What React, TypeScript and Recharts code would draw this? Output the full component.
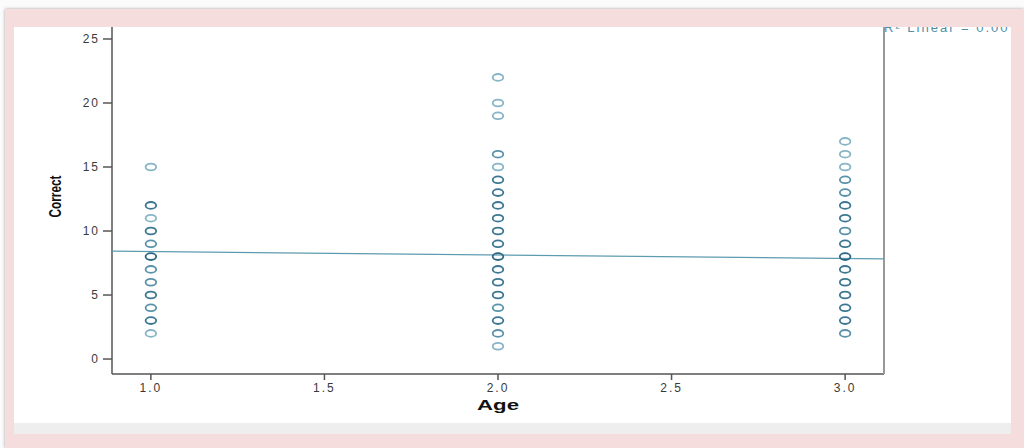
import { ScatterChart, Scatter, XAxis, YAxis, Label } from 'recharts';

// tick labels
const xTicks = [1.0, 1.5, 2.0, 2.5, 3.0];
const yTicks = [0, 5, 10, 15, 20, 25];

// Age = 1
const correctAge1 = [15, 12, 11, 10, 9, 8, 7, 6, 5, 4, 3, 2];
const overlapAge1 = [1, 3, 1, 4, 2, 5, 2, 2, 4, 2, 4, 1];
// Age = 2
const correctAge2 = [22, 20, 19, 16, 15, 14, 13, 12, 11, 10, 9, 8, 7, 6, 5, 4, 3, 2, 1];
const overlapAge2 = [1, 1, 1, 2, 1, 4, 4, 4, 4, 4, 4, 5, 4, 4, 4, 2, 4, 2, 1];
// Age = 3
const correctAge3 = [17, 16, 15, 14, 13, 12, 11, 10, 9, 8, 7, 6, 5, 4, 3, 2];
const overlapAge3 = [1, 1, 1, 2, 2, 4, 4, 2, 4, 5, 4, 4, 4, 4, 4, 2];

// linear fit line ends (R² Linear = 0.00)
const fitAge = [0.888, 3.112];
const fitCorrect = [8.43, 7.82];

const build = (age: number, vals: number[], counts: number[]) =>
  vals.map((v, i) => ({ age, correct: v, n: counts[i] }));

const points = [
  ...build(1, correctAge1, overlapAge1),
  ...build(2, correctAge2, overlapAge2),
  ...build(3, correctAge3, overlapAge3),
];
const fitData = fitAge.map((a, i) => ({ age: a, correct: fitCorrect[i] }));

const shade = (n: number) => {
  if (n <= 1) return '#86b5c6';
  if (n <= 2) return '#5a93a9';
  if (n <= 4) return '#3a7891';
  return '#2a6780';
};

const PointShape = (props: any) => {
  const { cx, cy, payload } = props;
  return (
    <ellipse cx={cx} cy={cy} rx={5.3} ry={3.4} fill="none" stroke={shade(payload.n)} strokeWidth={1.8} />
  );
};

const tickStyle = { fill: '#3a3a3a', fontSize: 12, fontFamily: 'Liberation Sans, Arial, sans-serif', letterSpacing: 2 };
const yDomain = [-1.17, 27.03];

export default function App() {
  return (
    <div style={{ position: 'absolute', left: 0, top: 0, width: 1024, height: 448, background: '#fbfbfb', overflow: 'hidden' }}>
      <div
        style={{
          position: 'absolute', left: 5, top: 9, width: 1019, height: 439,
          background: '#f5dddd', boxShadow: '0 0 3px rgba(0,0,0,0.35)',
        }}
      />
      <div style={{ position: 'absolute', left: 14, top: 423, width: 997, height: 11, background: '#eeeeee' }} />
      <div style={{ position: 'absolute', left: 14, top: 27, width: 997, height: 396, background: '#ffffff', overflow: 'hidden' }}>
        <div style={{ position: 'absolute', left: 0, top: -27 }}>
          <ScatterChart width={997} height={423} margin={{ top: 13, right: 125, left: 0, bottom: 0 }}>
            <XAxis
              type="number"
              dataKey="age"
              domain={[0.888, 3.112]}
              allowDataOverflow
              ticks={xTicks}
              tickFormatter={(v: number) => v.toFixed(1)}
              height={49}
              tick={tickStyle}
              tickSize={6}
              tickMargin={3}
              axisLine={{ stroke: '#555', strokeWidth: 1.5 }}
              tickLine={{ stroke: '#555', strokeWidth: 1.5 }}
            >
              <Label
                content={({ viewBox }: any) => (
                  <text
                    x={viewBox.x + viewBox.width / 2}
                    y={410}
                    textAnchor="middle"
                    fontFamily="Liberation Sans, Arial, sans-serif"
                    fontWeight="bold"
                    fontSize={15}
                    textLength={42}
                    lengthAdjust="spacingAndGlyphs"
                    fill="#111"
                  >
                    Age
                  </text>
                )}
              />
            </XAxis>
            <YAxis
              type="number"
              dataKey="correct"
              domain={yDomain}
              allowDataOverflow
              ticks={yTicks}
              width={98}
              tick={tickStyle}
              tickSize={9}
              tickMargin={3}
              axisLine={{ stroke: '#555', strokeWidth: 1.5 }}
              tickLine={{ stroke: '#555', strokeWidth: 1.5 }}
            >
              <Label
                content={({ viewBox }: any) => {
                  const cx = 41;
                  const cy = viewBox.y + viewBox.height / 2 + 3;
                  return (
                    <text
                      x={cx}
                      y={cy}
                      transform={`rotate(-90 ${cx} ${cy})`}
                      textAnchor="middle"
                      dominantBaseline="central"
                      fontFamily="Liberation Sans, Arial, sans-serif"
                      fontWeight="bold"
                      fontSize={16}
                      textLength={42}
                      lengthAdjust="spacingAndGlyphs"
                      fill="#111"
                    >
                      Correct
                    </text>
                  );
                }}
              />
            </YAxis>
            <YAxis
              yAxisId="frame"
              orientation="right"
              type="number"
              dataKey="correct"
              domain={yDomain}
              allowDataOverflow
              width={2}
              tick={false}
              tickLine={false}
              axisLine={{ stroke: '#999', strokeWidth: 2 }}
            />
            <Scatter
              yAxisId="frame"
              data={fitData}
              line={{ stroke: '#5e9bb0', strokeWidth: 1.2 }}
              shape={() => null}
              isAnimationActive={false}
            />
            <Scatter data={points} shape={PointShape} isAnimationActive={false} />
          </ScatterChart>
        </div>
        <div
          style={{
            position: 'absolute', left: 870, top: -6, fontFamily: 'Liberation Sans, Arial, sans-serif',
            fontSize: 13, lineHeight: '13px', color: '#4f8fa6', letterSpacing: 2, whiteSpace: 'nowrap',
          }}
        >
          R² Linear = 0.00
        </div>
      </div>
    </div>
  );
}
